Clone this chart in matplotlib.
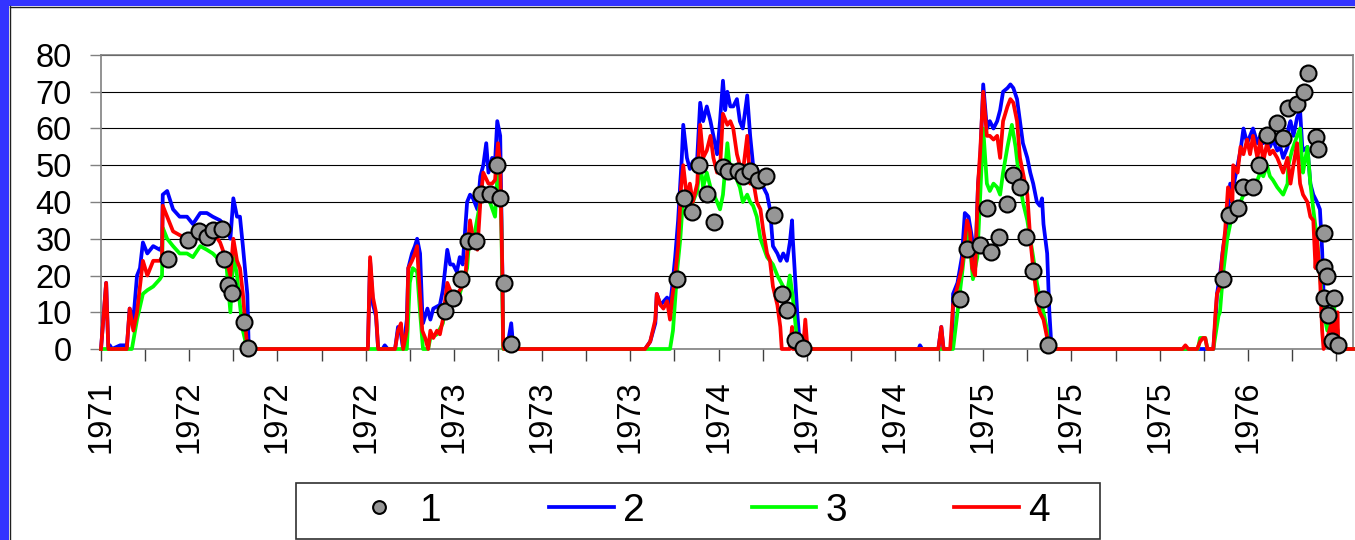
import matplotlib
matplotlib.use('Agg')
import matplotlib.pyplot as plt
from matplotlib.patches import Rectangle
from matplotlib.lines import Line2D

plt.rcParams['font.family'] = ['Liberation Sans', 'DejaVu Sans']

# days since start of record
tick_days = list(range(0, 1681, 60))
label_days = list(range(0, 1561, 120))
tick_labels = ['1971', '1972', '1972', '1972', '1973', '1973', '1973',
               '1974', '1974', '1974', '1975', '1975', '1975', '1976']

# series 1: observations (points)
s1_day = [91, 118, 133, 144, 152, 165, 167, 173, 178, 195, 200,
          468, 479, 490, 499, 510, 517, 529, 539, 543, 548, 558,
          784, 793, 804, 814, 824, 834, 846, 853, 867, 873, 883, 894, 905, 916, 926, 933, 944, 955,
          1169, 1178, 1195, 1205, 1211, 1222, 1233, 1241, 1250, 1258, 1268, 1282, 1288,
          1526, 1535, 1546, 1554, 1567, 1575, 1586, 1599, 1608, 1615, 1627, 1637, 1642, 1653,
          1656, 1663, 1664, 1668, 1663, 1677, 1669, 1674, 1683]
s1_val = [24.5, 29.7, 32.0, 30.4, 32.5, 32.7, 24.5, 17.4, 15.3, 7.4, 0.3,
          10.3, 14.0, 19.0, 29.4, 29.4, 42.1, 42.1, 50.2, 41.0, 18.0, 1.3,
          19.1, 41.1, 37.4, 50.1, 42.2, 34.5, 49.4, 48.3, 48.3, 47.1, 48.3, 46.1, 47.2, 36.5, 15.0, 10.5, 2.4, 0.3,
          13.6, 27.3, 28.2, 38.5, 26.3, 30.4, 39.5, 47.4, 44.2, 30.4, 21.3, 13.7, 1.2,
          19.0, 36.4, 38.5, 44.2, 44.2, 50.2, 58.2, 61.6, 57.3, 65.5, 66.6, 70.0, 75.2, 57.6,
          54.3, 31.5, 22.4, 19.9, 13.8, 13.8, 9.2, 2.3, 1.1]

# series 2 (blue)
s2_day = [0, 7, 10, 12, 15, 26, 33, 35, 39, 44, 49, 53, 57, 63, 71, 80, 83, 84, 90, 98, 107, 117, 125,
          135, 144, 152, 162, 171, 176, 180, 185, 189, 193, 199, 201,
          363, 366, 370, 374, 377, 383, 386, 390,
          400, 404, 408, 411, 416, 418, 423, 427, 430, 434, 437, 438, 444, 448, 452, 461, 465, 471, 475,
          479, 484, 488, 492, 498, 502, 506, 512, 516, 520, 524, 527, 532, 536, 539, 543, 546, 547, 552,
          558, 561,
          740, 747, 754, 756, 761, 770, 774, 777, 781, 785, 790, 792, 797, 801, 805, 811, 815, 819, 824,
          829, 833, 838, 842, 846, 849, 852, 856, 860, 865, 869, 873, 879, 883, 887, 892, 897, 901, 906,
          910, 914, 920, 924, 928, 933, 937, 940, 941, 947, 951,
          1112, 1114, 1117, 1139, 1143, 1146, 1156, 1158, 1159, 1165, 1171, 1175, 1180, 1185, 1189, 1193,
          1196, 1200, 1205, 1209, 1214, 1219, 1223, 1227, 1233, 1237, 1241, 1246, 1250, 1254, 1260, 1264,
          1268, 1273, 1277, 1280, 1282, 1287, 1290, 1293,
          1513, 1516, 1518, 1522, 1526, 1532, 1536, 1540, 1546, 1550, 1554, 1559, 1563, 1567, 1573, 1577,
          1581, 1586, 1590, 1594, 1600, 1604, 1608, 1614, 1615, 1618, 1622, 1627, 1631, 1634, 1635, 1641,
          1645, 1649, 1654, 1658, 1661, 1663, 1668, 1672, 1676, 1682, 1683, 1703]
s2_val = [0, 18, 0, 1, 0, 1, 1, 0, 11, 8, 20, 22, 29, 26, 28, 27, 28, 42, 43, 38, 36, 36, 34,
          37, 37, 36, 35, 33, 30, 41, 36, 36, 28, 15, 0,
          0, 24, 12, 9, 0, 0, 1, 0,
          0, 6, 4, 0, 8, 22, 26, 28, 30, 26, 10, 7, 11, 8, 11, 12, 16, 27, 23,
          23, 21, 25, 23, 40, 42, 41, 38, 47, 50, 56, 48, 52, 51, 62, 58, 20, 2, 0,
          7, 0,
          0, 2, 7, 15, 12, 14, 12, 17, 25, 35, 52, 61, 52, 49, 51, 52, 67, 62, 66,
          62, 58, 53, 62, 73, 65, 70, 66, 66, 68, 62, 60, 69, 58, 50, 49, 47, 44, 42,
          38, 28, 26, 24, 26, 24, 29, 35, 30, 10, 0,
          0, 1, 0, 0, 6, 0, 0, 1, 15, 18, 25, 37, 36, 30, 22, 45,
          52, 72, 60, 62, 60, 62, 65, 70, 71, 72, 71, 68, 62, 56, 52, 48,
          45, 40, 39, 41, 34, 26, 10, 0,
          0, 8, 15, 20, 27, 35, 45, 44, 50, 54, 60, 56, 58, 60, 56, 58,
          56, 58, 55, 57, 54, 55, 52, 55, 60, 62, 58, 63, 65, 55, 54, 55,
          45, 42, 40, 38, 27, 15, 12, 5, 10, 5, 0, 0]

# series 3 (green)
s3_day = [0, 42, 49, 57, 63, 71, 80, 83, 84, 90, 98, 107, 117, 125, 135, 144, 152, 162, 171, 176,
          180, 185, 189, 193, 199,
          416, 420, 424, 430, 434, 438, 445, 448, 457, 465, 471, 479, 488, 498, 502, 506, 516, 520,
          529, 536, 540, 544, 546, 547,
          774, 778, 784, 788, 792, 797, 801, 805, 811, 815, 819, 824, 829, 838, 842, 846, 852, 856,
          860, 865, 869, 873, 879, 883, 887, 892, 897, 906, 914, 920, 928, 933, 937, 941, 947, 948,
          1159, 1165, 1171, 1178, 1182, 1186, 1192, 1196, 1200, 1205, 1209, 1214, 1219, 1223, 1227,
          1233, 1239, 1244, 1248, 1254, 1260, 1264, 1268, 1273, 1277, 1282, 1287, 1288,
          1492, 1495, 1502, 1505, 1513, 1520, 1522, 1526, 1532, 1536, 1540, 1546, 1550, 1554, 1559,
          1563, 1573, 1577, 1581, 1586, 1590, 1594, 1600, 1604, 1608, 1614, 1615, 1620, 1627, 1631,
          1634, 1635, 1641, 1645, 1649, 1654, 1658, 1663, 1668, 1672, 1676, 1682, 1683, 1703]
s3_val = [0, 0, 8, 15, 16, 17, 19, 20, 33, 30, 28, 26, 26, 25, 28, 27, 26, 24, 22, 10,
          26, 20, 12, 5, 0,
          0, 18, 22, 21, 10, 0, 0, 3, 4, 7, 15, 14, 15, 22, 33, 29, 40, 42,
          40, 36, 50, 42, 15, 0,
          0, 5, 22, 30, 42, 40, 38, 40, 43, 51, 44, 48, 44, 40, 38, 42, 56, 48,
          50, 46, 44, 40, 42, 40, 39, 36, 30, 25, 23, 20, 17, 15, 20, 14, 2, 0,
          0, 10, 20, 33, 28, 19, 25, 42, 60, 45, 43, 45, 44, 42, 48,
          55, 61, 55, 48, 40, 35, 30, 25, 18, 14, 10, 5, 0,
          0, 3, 3, 0, 0, 9, 10, 20, 30, 34, 36, 38, 40, 42, 44,
          45, 46, 48, 47, 50, 47, 46, 44, 43, 42, 45, 50, 54, 58, 60,
          50, 48, 55, 45, 38, 30, 20, 10, 5, 8, 13, 5, 0, 0]

# series 4 (red)
s4_day = [0, 7, 10, 35, 39, 44, 49, 57, 63, 71, 80, 83, 84, 90, 98, 107, 117, 125, 135, 144, 152,
          162, 171, 176, 180, 185, 189, 193, 197, 199,
          363, 366, 370, 374, 377,
          400, 404, 408, 411, 416, 418, 423, 427, 430, 431, 437, 441, 445, 448, 452, 457, 461, 465, 471,
          475, 482, 488, 495, 498, 502, 506, 512, 516, 520, 527, 532, 536, 540, 543, 546, 547, 548,
          740, 747, 754, 756, 761, 765, 770, 774, 777, 781, 785, 789, 792, 797, 801, 805, 811, 815, 819,
          824, 829, 833, 838, 842, 846, 852, 856, 860, 865, 869, 873, 879, 883, 887, 892, 897, 901, 906,
          910, 914, 920, 924, 926, 937, 940, 941, 955, 958, 961,
          1139, 1143, 1146, 1155, 1159, 1165, 1171, 1178, 1182, 1185, 1189, 1193, 1196, 1200, 1205,
          1209, 1214, 1219, 1223, 1227, 1233, 1237, 1241, 1246, 1250, 1254, 1260, 1264, 1268, 1273,
          1277, 1282, 1287, 1288,
          1471, 1475, 1479, 1491, 1495, 1499, 1502, 1505, 1513, 1516, 1518, 1522, 1525, 1529, 1533,
          1539, 1540, 1546, 1550, 1554, 1559, 1563, 1567, 1573, 1577, 1581, 1586, 1590, 1594, 1600,
          1604, 1608, 1614, 1618, 1622, 1627, 1631, 1635, 1641, 1645, 1649, 1652, 1654, 1658, 1661,
          1663, 1668, 1675, 1676, 1682, 1683, 1703]
s4_val = [0, 18, 0, 0, 11, 5, 10, 24, 20, 24, 24, 25, 39, 36, 32, 31, 30, 31, 31, 32, 32,
          29, 24, 20, 30, 24, 22, 15, 5, 0,
          0, 25, 14, 10, 0,
          0, 5, 7, 0, 5, 22, 24, 26, 28, 24, 5, 3, 0, 5, 3, 5, 4, 8, 18,
          16, 14, 16, 18, 26, 35, 30, 27, 40, 48, 45, 45, 46, 56, 50, 20, 1, 0,
          0, 2, 8, 15, 12, 11, 13, 8, 14, 20, 28, 44, 50, 41, 45, 40, 45, 61, 52,
          54, 58, 52, 48, 49, 64, 61, 62, 60, 53, 50, 48, 58, 45, 46, 40, 38, 32, 26,
          24, 17, 12, 6, 0, 0, 6, 0, 0, 8, 0,
          0, 6, 0, 0, 12, 17, 22, 35, 32, 22, 20, 45, 54, 70, 58,
          58, 57, 58, 52, 62, 66, 68, 67, 62, 52, 48, 42, 30, 22, 14,
          10, 8, 3, 0,
          0, 1, 0, 0, 2, 3, 3, 0, 0, 10, 15, 17, 25, 32, 44,
          40, 50, 48, 55, 53, 57, 53, 58, 52, 57, 51, 56, 53, 54, 52,
          50, 48, 52, 45, 50, 56, 45, 42, 40, 36, 35, 22, 30, 20, 5,
          0, 3, 8, 2, 10, 0, 0]

fig = plt.figure(figsize=(13.55, 5.40), dpi=100)
fig.patch.set_facecolor('white')

# blue slide frame on the left and top
fig.patches.append(Rectangle((0, 0), 9 / 1355, 1, transform=fig.transFigure,
                             facecolor='#3333ff', edgecolor='none'))
fig.patches.append(Rectangle((0, 1 - 6 / 540), 1, 6 / 540, transform=fig.transFigure,
                             facecolor='#3333ff', edgecolor='none'))
fig.add_artist(Line2D([9.5 / 1355, 9.5 / 1355], [0, 1 - 6 / 540], transform=fig.transFigure,
                      color='#202020', lw=1))
fig.add_artist(Line2D([9.5 / 1355, 1], [1 - 6.5 / 540, 1 - 6.5 / 540], transform=fig.transFigure,
                      color='#202020', lw=1))

ax = fig.add_axes([101 / 1355, 1 - 349 / 540, (1353 - 101) / 1355, (349 - 55) / 540])

lw = 2.7
ax.plot(s2_day, s2_val, color='#0000ff', lw=lw, clip_on=False, zorder=3, label='2')
ax.plot(s3_day, s3_val, color='#00ff00', lw=lw, clip_on=False, zorder=4, label='3')
ax.plot(s4_day, s4_val, color='#ff0000', lw=lw, clip_on=False, zorder=5, label='4')
ax.plot(s1_day, s1_val, linestyle='none', marker='o', markersize=11.5, markerfacecolor='#969696',
        markeredgecolor='black', markeredgewidth=1.5, clip_on=False, zorder=6, label='1')

ax.set_xlim(0, 1703)
ax.set_ylim(0, 80)
ax.set_yticks(range(0, 81, 10))
ax.yaxis.grid(True, color='black', lw=0.8)
ax.set_axisbelow(True)

ax.set_xticks(label_days)
ax.set_xticklabels(tick_labels, rotation=90)
ax.set_xticks([d for d in tick_days if d not in label_days], minor=True)

for s in ax.spines.values():
    s.set_color('#808080')
    s.set_linewidth(1.2)

ax.tick_params(axis='y', which='both', length=8, width=1, color='#808080', pad=13,
               labelsize=23.5)
ax.tick_params(axis='x', which='both', length=8.5, width=1, color='#404040', pad=14,
               labelsize=23.5)

# legend with its own box
fig.patches.append(Rectangle((296 / 1355, 1 - 539 / 540), (1100 - 296) / 1355, 56 / 540,
                             transform=fig.transFigure, fill=False, edgecolor='#303030', lw=1.2))
h, l = ax.get_legend_handles_labels()
order = [3, 0, 1, 2]
fig.legend([h[i] for i in order], [l[i] for i in order], loc='center',
           bbox_to_anchor=(698 / 1355, 1 - 511 / 540), ncol=4, frameon=False, fontsize=28,
           handlelength=1.67, handletextpad=0.23, columnspacing=2.75, markerscale=0.8,
           numpoints=1)

fig.savefig('out.png', dpi=100)
